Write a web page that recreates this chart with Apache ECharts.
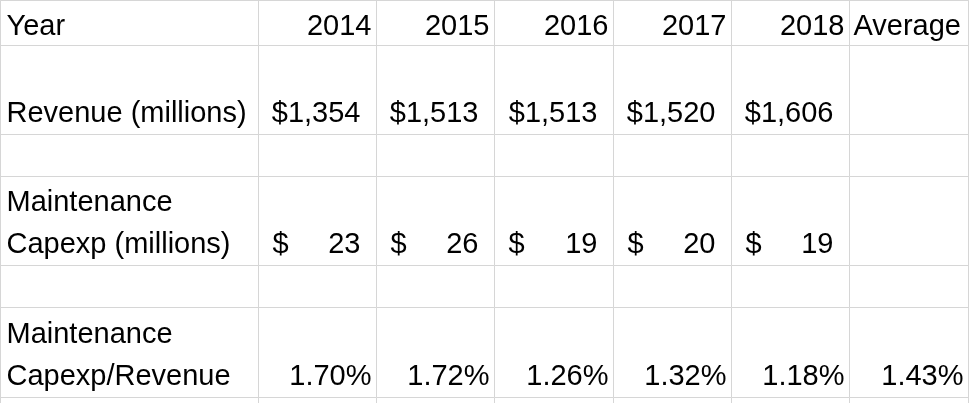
<!DOCTYPE html>
<html>
<head>
<meta charset="utf-8">
<style>
  html, body { margin: 0; padding: 0; background: #ffffff; }
  #chart { width: 969px; height: 403px; }
</style>
<script src="https://cdn.jsdelivr.net/npm/echarts@6/dist/echarts.min.js"></script>
</head>
<body>
<div id="chart"></div>
<script>
// ---- data ----
const cornerLabel = 'Year';
const columns = ['2014', '2015', '2016', '2017', '2018', 'Average'];
const rowLabels = ['Revenue (millions)', '', 'Maintenance\nCapexp (millions)', '', 'Maintenance\nCapexp/Revenue', ''];
const revenue = [1354, 1513, 1513, 1520, 1606, null];          // $ millions
const maintenanceCapex = [23, 26, 19, 20, 19, null];            // $ millions
const capexToRevenue = [1.70, 1.72, 1.26, 1.32, 1.18, 1.43];    // percent

// ---- styles ----
const FONT = 'Liberation Sans';
const FS = 29;
const LH = 42;
const HEADER_LH = 38;
const GRID = '#d6d6d6';

const rowKeys = rowLabels.map((l, i) => l === '' ? ' '.repeat(i + 1) : l);
const rowSizes = [89, 42, 89, 42, 90, 44];

const baseLabel = {
  fontFamily: FONT, fontSize: FS, lineHeight: LH, color: '#000'
};

function bodyLabel(pad) {
  return Object.assign({}, baseLabel, {
    position: 'insideBottomRight', distance: 0,
    align: 'right', verticalAlign: 'bottom',
    padding: pad
  });
}

const bodyData = [];
revenue.forEach((v, i) => {
  if (v == null) return;
  bodyData.push({
    coord: [columns[i], rowKeys[0]],
    value: '$' + v.toLocaleString('en-US'),
    label: bodyLabel([rowSizes[0] - LH, 16, 0, 0])
  });
});
maintenanceCapex.forEach((v, i) => {
  if (v == null) return;
  bodyData.push({
    coord: [columns[i], rowKeys[2]],
    value: '{d|$}{n|' + v + '}',
    label: bodyLabel([rowSizes[2] - LH, 16, 0, 14])
  });
});
capexToRevenue.forEach((v, i) => {
  if (v == null) return;
  bodyData.push({
    coord: [columns[i], rowKeys[4]],
    value: v.toFixed(2) + '%',
    label: bodyLabel([rowSizes[4] - LH, 5, 0, 0])
  });
});

const cellStyle = { color: '#ffffff', borderColor: GRID, borderWidth: 1 };

const xHeaderLabel = Object.assign({}, baseLabel, {
  lineHeight: HEADER_LH,
  position: 'insideBottomRight', distance: 0, padding: [0, 5, 0, 0]
});
const xHeaderLabelLeft = Object.assign({}, baseLabel, {
  lineHeight: HEADER_LH,
  position: 'insideBottomLeft', distance: 0, padding: [0, 0, 0, 4], align: 'left'
});

const chart = echarts.init(document.getElementById('chart'), null, { renderer: 'canvas' });
chart.setOption({
  backgroundColor: '#ffffff',
  animation: false,
  matrix: {
    left: 0,
    top: 0,
    width: 968,
    height: 45 + rowSizes.reduce((a, b) => a + b, 0),
    backgroundStyle: { color: '#ffffff', borderColor: GRID, borderWidth: 1 },
    x: {
      levelSize: 45,
      data: columns.map(c => ({
        value: c,
        label: c === 'Average' ? xHeaderLabelLeft : xHeaderLabel
      })),
      itemStyle: cellStyle,
      dividerLineStyle: { color: GRID, width: 1 },
      label: xHeaderLabel
    },
    y: {
      levelSize: 258,
      data: rowKeys.map((k, i) => ({ value: k, size: rowSizes[i] })),
      itemStyle: cellStyle,
      dividerLineStyle: { color: GRID, width: 1 },
      label: Object.assign({}, baseLabel, {
        position: 'insideBottomLeft', distance: 0, padding: [0, 0, 0, 6], align: 'left'
      })
    },
    corner: {
      data: [{ coord: [-1, -1], value: cornerLabel }],
      itemStyle: cellStyle,
      label: Object.assign({}, baseLabel, {
        lineHeight: HEADER_LH,
        position: 'insideBottomLeft', distance: 0, padding: [0, 0, 0, 6]
      })
    },
    body: {
      data: bodyData,
      itemStyle: cellStyle,
      label: Object.assign(bodyLabel([0, 5, 0, 0]), {
        rich: {
          d: { fontFamily: FONT, fontSize: FS, lineHeight: LH, color: '#000', align: 'left' },
          n: { fontFamily: FONT, fontSize: FS, lineHeight: LH, color: '#000', align: 'right' }
        }
      })
    }
  }
});
</script>
</body>
</html>
